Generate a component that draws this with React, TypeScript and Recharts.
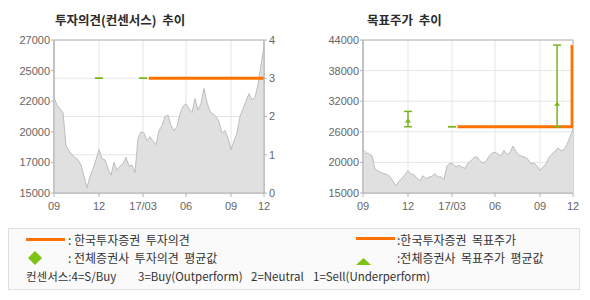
import React from "react";
import {
  Area,
  CartesianGrid,
  ComposedChart,
  ErrorBar,
  Line,
  ReferenceArea,
  Scatter,
  XAxis,
  YAxis
} from "recharts";

// 주가 (일정 간격 샘플, 16/09 ~ 17/11)
const prices = [
  22500, 21900, 21600, 21300, 18700, 18300, 18000, 17800, 17600, 17200,
  16300, 15400, 16300, 16900, 17600, 18400, 17700, 17600, 16900, 16400,
  17400, 16800, 17100, 17300, 17800, 17100, 17200, 16600, 19300, 19800,
  19700, 19100, 19400, 19100, 18800, 19900, 20300, 21000, 21100, 20300,
  19900, 20200, 21200, 21800, 22000, 21600, 21300, 22400, 21500, 22000,
  23200, 22100, 21400, 21200, 21000, 20600, 19700, 19900, 19300, 18400,
  19100, 19700, 21000, 21600, 22200, 22800, 22300, 22500, 23500, 25000,
  26500
];

const xTicks = [0, 15, 29.7, 44, 59, 70];
const xTickLabels = ["09", "12", "17/03", "06", "09", "12"];

const opinionTicks = [0, 1, 2, 3, 4];
const leftPriceTicks = [15000, 17400, 19800, 22200, 24600, 27000];
const leftPriceLabels = ["15000", "17000", "20000", "22000", "25000", "27000"];
const targetTicks = [14000, 20000, 26000, 32000, 38000, 44000];
const targetTickLabels = ["15000", "20000", "26000", "32000", "38000", "44000"];

// 한국투자증권 투자의견
const opinionX = [31.6, 70];
const opinionValues = [3, 3];

// 전체증권사 투자의견 평균값
const avgOpinionX = [15, 29.7];
const avgOpinion = [3, 3];
const avgOpinionLow = [3, 3];
const avgOpinionHigh = [3, 3];

// 한국투자증권 목표주가
const targetX = [31.5, 69.7, 69.7];
const targetValues = [27000, 27000, 43000];

// 전체증권사 목표주가 평균값
const avgTargetX = [15, 29.7, 64.7];
const avgTarget = [28200, 27000, 31500];
const avgTargetLow = [27000, 27000, 27000];
const avgTargetHigh = [30000, 27000, 43000];

const ORANGE = "#ff7200";
const GREEN = "#7ab51d";
const AXIS = "#b4b4b4";
const GRID = "#e6e6e6";
const TICK = { fill: "#666", fontSize: 11, fontFamily: "Liberation Sans, Arial" };

const priceData = prices.map((price, i) => ({ x: i, price }));
const opinionData = opinionX.map((x, i) => ({ x, v: opinionValues[i] }));
const avgOpinionData = avgOpinionX.map((x, i) => ({
  x,
  y: avgOpinion[i],
  err: [avgOpinion[i] - avgOpinionLow[i], avgOpinionHigh[i] - avgOpinion[i]]
}));
const targetData = targetX.map((x, i) => ({ x, v: targetValues[i] }));
const avgTargetData = avgTargetX.map((x, i) => ({
  x,
  y: avgTarget[i],
  err: [avgTarget[i] - avgTargetLow[i], avgTargetHigh[i] - avgTarget[i]],
  spread: avgTargetHigh[i] - avgTargetLow[i]
}));

const fmtX = (_v: number, i: number) => xTickLabels[i];

function Triangle(props: any) {
  const { cx, cy, payload } = props;
  if (!payload || !payload.spread) return <g />;
  return <polygon points={`${cx - 3},${cy + 2} ${cx + 3},${cy + 2} ${cx},${cy - 2}`} fill={GREEN} />;
}

function OpinionChart() {
  return (
    <ComposedChart
      width={300}
      height={215}
      data={priceData}
      margin={{ top: 40, right: 16, bottom: 2, left: 0 }}
    >
      <CartesianGrid stroke={GRID} yAxisId="op" />
      <ReferenceArea yAxisId="op" x1={0} x2={70} y1={0} y2={4} fill="none" stroke={AXIS} />
      <XAxis
        dataKey="x"
        type="number"
        domain={[0, 70]}
        ticks={xTicks}
        tickFormatter={fmtX}
        interval={0}
        allowDataOverflow
        stroke={AXIS}
        tick={TICK}
        tickSize={4}
        tickMargin={5}
        height={20}
      />
      <YAxis
        yAxisId="price"
        domain={[15000, 27000]}
        ticks={leftPriceTicks}
        tickFormatter={(_v: number, i: number) => leftPriceLabels[i]}
        interval={0}
        allowDataOverflow
        stroke={AXIS}
        tick={TICK}
        tickSize={3}
        tickMargin={1}
        width={54}
      />
      <YAxis
        yAxisId="op"
        orientation="right"
        domain={[0, 4]}
        ticks={opinionTicks}
        interval={0}
        allowDataOverflow
        stroke={AXIS}
        tick={TICK}
        tickSize={3}
        tickMargin={2}
        width={20}
      />
      <Area
        yAxisId="price"
        dataKey="price"
        type="linear"
        stroke="#bdbdbd"
        strokeWidth={1}
        fill="#e0e0e0"
        fillOpacity={1}
        isAnimationActive={false}
        dot={false}
        activeDot={false}
      />
      <Line
        yAxisId="op"
        data={opinionData}
        dataKey="v"
        stroke={ORANGE}
        strokeWidth={3}
        dot={false}
        activeDot={false}
        isAnimationActive={false}
      />
      <Scatter
        yAxisId="op"
        data={avgOpinionData}
        dataKey="y"
        shape={() => <g />}
        isAnimationActive={false}
      >
        <ErrorBar dataKey="err" direction="y" width={4} stroke={GREEN} strokeWidth={1.5} isAnimationActive={false} />
      </Scatter>
    </ComposedChart>
  );
}

function TargetChart() {
  return (
    <ComposedChart
      width={290}
      height={215}
      data={priceData}
      margin={{ top: 40, right: 17, bottom: 2, left: 0 }}
    >
      <CartesianGrid stroke={GRID} />
      <ReferenceArea x1={0} x2={70} y1={14000} y2={44000} fill="none" stroke={AXIS} />
      <XAxis
        dataKey="x"
        type="number"
        domain={[0, 70]}
        ticks={xTicks}
        tickFormatter={fmtX}
        interval={0}
        allowDataOverflow
        stroke={AXIS}
        tick={TICK}
        tickSize={4}
        tickMargin={5}
        height={20}
      />
      <YAxis
        domain={[14000, 44000]}
        ticks={targetTicks}
        tickFormatter={(_v: number, i: number) => targetTickLabels[i]}
        interval={0}
        allowDataOverflow
        stroke={AXIS}
        tick={TICK}
        tickSize={3}
        tickMargin={1}
        width={63}
      />
      <Area
        dataKey="price"
        type="linear"
        stroke="#bdbdbd"
        strokeWidth={1}
        fill="#e0e0e0"
        fillOpacity={1}
        isAnimationActive={false}
        dot={false}
        activeDot={false}
      />
      <Line
        data={targetData}
        dataKey="v"
        stroke={ORANGE}
        strokeWidth={3}
        dot={false}
        activeDot={false}
        isAnimationActive={false}
      />
      <Scatter data={avgTargetData} dataKey="y" shape={Triangle} isAnimationActive={false}>
        <ErrorBar dataKey="err" direction="y" width={4} stroke={GREEN} strokeWidth={1.5} isAnimationActive={false} />
      </Scatter>
    </ComposedChart>
  );
}

const titleStyle: React.CSSProperties = {
  position: "absolute",
  top: 12,
  fontFamily: "'Noto Sans CJK KR', sans-serif",
  fontWeight: 700,
  fontSize: 12.5,
  lineHeight: "16px",
  color: "#2b2b2b",
  whiteSpace: "pre"
};

const legendText: React.CSSProperties = {
  position: "absolute",
  fontFamily: "'Noto Sans CJK KR', sans-serif",
  fontSize: 12,
  lineHeight: "14px",
  color: "#333",
  whiteSpace: "pre"
};

const noteText: React.CSSProperties = { ...legendText, fontSize: 11.5, top: 269 };

export default function App() {
  return (
    <div style={{ position: "absolute", left: 0, top: 0, width: 590, height: 300, background: "#fff" }}>
      <div style={{ ...titleStyle, left: 55 }}>투자의견(컨센서스)  추이</div>
      <div style={{ ...titleStyle, left: 367 }}>목표주가  추이</div>
      <div style={{ position: "absolute", left: 0, top: 0 }}>
        <OpinionChart />
      </div>
      <div style={{ position: "absolute", left: 300, top: 0 }}>
        <TargetChart />
      </div>
      <div
        style={{
          position: "absolute",
          left: 8,
          top: 228,
          width: 570,
          height: 60,
          border: "1px solid #e0e0e0",
          background: "#fafafa"
        }}
      />
      <div style={{ position: "absolute", left: 26, top: 238, width: 39, height: 3, background: ORANGE }} />
      <div style={{ ...legendText, left: 68, top: 233 }}>: 한국투자증권  투자의견</div>
      <svg style={{ position: "absolute", left: 28, top: 251 }} width={14} height={14}>
        <polygon points="7,0 14,7 7,14 0,7" fill="#7dc314" />
      </svg>
      <div style={{ ...legendText, left: 68, top: 251 }}>: 전체증권사  투자의견  평균값</div>
      <div style={{ position: "absolute", left: 356, top: 237, width: 39, height: 3, background: ORANGE }} />
      <div style={{ ...legendText, left: 397, top: 233 }}>:한국투자증권  목표주가</div>
      <svg style={{ position: "absolute", left: 356, top: 258 }} width={15} height={7}>
        <polygon points="0,7 15,7 7.5,0" fill="#7dc314" />
      </svg>
      <div style={{ ...legendText, left: 397, top: 251 }}>:전체증권사  목표주가  평균값</div>
      <div style={{ ...noteText, left: 26 }}>컨센서스:4=S/Buy</div>
      <div style={{ ...noteText, left: 138 }}>3=Buy(Outperform)</div>
      <div style={{ ...noteText, left: 251 }}>2=Neutral</div>
      <div style={{ ...noteText, left: 313 }}>1=Sell(Underperform)</div>
    </div>
  );
}
